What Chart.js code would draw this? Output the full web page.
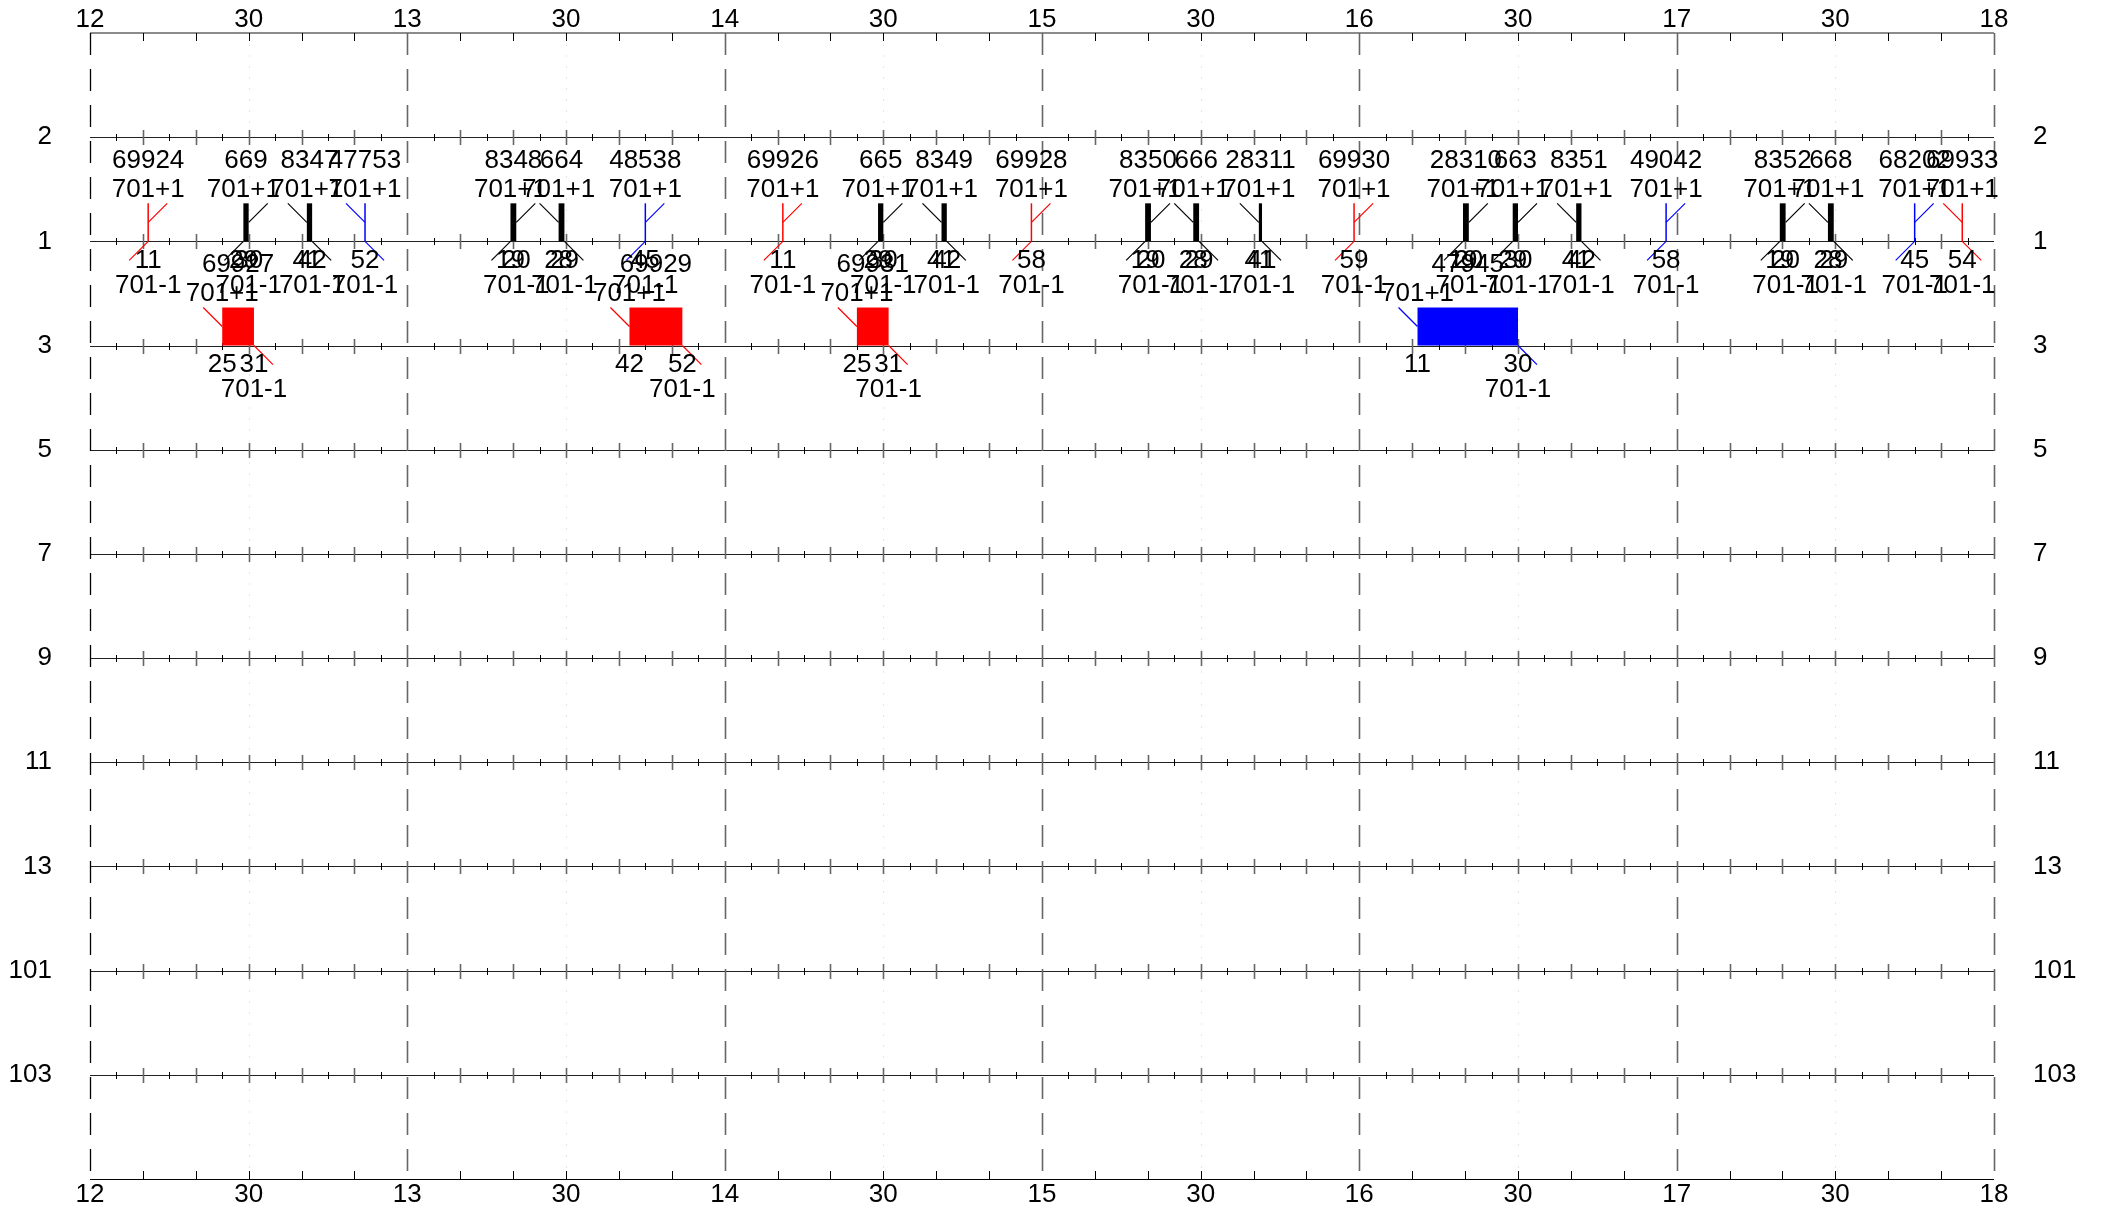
<!DOCTYPE html>
<html>
<head>
<meta charset="utf-8">
<script src="https://cdn.jsdelivr.net/npm/chart.js@4.4.1/dist/chart.umd.min.js"></script>
<style>
  html, body { margin: 0; padding: 0; background: #fff; }
  canvas { display: block; }
</style>
</head>
<body>
<canvas id="myChart" width="2101" height="1210"></canvas>
<script>
// station tracks, top to bottom (first and last entries are the blank edge rows)
let stations = ['', '2', '1', '3', '5', '7', '9', '11', '13', '101', '103', ''];

// time axis in minutes after 12:00, labelled every half hour
let firstHour = 12;
let timeMax = 360;

// trains
let trainNo = ['69924', '669', '8347', '47753', '8348', '664', '48538', '69926', '665', '8349',
  '69928', '8350', '666', '28311', '69930', '28310', '663', '8351', '49042', '8352',
  '668', '68202', '69933', '69927', '69929', '69931', '47945'];
let trainTrack = ['1', '1', '1', '1', '1', '1', '1', '1', '1', '1',
  '1', '1', '1', '1', '1', '1', '1', '1', '1', '1',
  '1', '1', '1', '3', '3', '3', '3'];
let trainIn = [11, 29, 41, 52, 79.5, 88.6, 105, 131, 149, 161,
  178, 199.5, 208.6, 221, 239, 259.6, 269, 281, 298, 319.5,
  328.6, 345, 354, 25, 102, 145, 251];
let trainOut = [11, 30, 42, 52, 80.6, 89.7, 105, 131, 150, 162,
  178, 200.6, 209.7, 221.6, 239, 260.7, 270, 282, 298, 320.6,
  329.7, 345, 354, 31, 112, 151, 270];
let trainDir = ['up', 'up', 'down', 'down', 'up', 'down', 'up', 'up', 'up', 'down',
  'up', 'up', 'down', 'down', 'up', 'up', 'up', 'down', 'up', 'up',
  'down', 'up', 'down', 'down', 'down', 'down', 'down'];
let trainColor = ['red', 'black', 'black', 'blue', 'black', 'black', 'blue', 'red', 'black', 'black',
  'red', 'black', 'black', 'black', 'red', 'black', 'black', 'black', 'blue', 'black',
  'black', 'blue', 'red', 'red', 'red', 'red', 'blue'];
let arriveTag = '701+1';
let departTag = '701-1';

const fontFamily = '"Liberation Sans", Arial, sans-serif';
const fontSize = 26;
const colors = { red: '#ff0000', blue: '#0000ff', black: '#000000' };

function timeLabel(v) {
  return v % 60 === 0 ? String(firstHour + v / 60) : '30';
}

function line(ctx, x1, y1, x2, y2) {
  ctx.beginPath();
  ctx.moveTo(x1, y1);
  ctx.lineTo(x2, y2);
  ctx.stroke();
}

const trainPlot = {
  id: 'trainPlot',
  beforeDatasetsDraw(chart) {
    const { ctx, chartArea: a, scales: { x, y } } = chart;
    ctx.save();

    // faint half hour lines
    ctx.strokeStyle = '#e6e6e6';
    ctx.lineWidth = 1;
    ctx.setLineDash([2, 9]);
    for (let t = 30; t < timeMax; t += 60) {
      const px = Math.round(x.getPixelForValue(t)) + 0.5;
      line(ctx, px, a.top, px, a.bottom);
    }
    ctx.setLineDash([]);

    // track lines with 5 / 10 minute ticks
    for (let r = 1; r < stations.length - 1; r++) {
      const py = Math.round(y.getPixelForValue(r)) + 0.5;
      ctx.strokeStyle = '#222';
      ctx.lineWidth = 1;
      line(ctx, a.left, py, a.right, py);
      for (let t = 5; t < timeMax; t += 5) {
        if (t % 60 === 0) continue;
        const px = Math.round(x.getPixelForValue(t)) + 0.5;
        if (t % 10 === 0) {
          ctx.strokeStyle = '#666';
          ctx.lineWidth = 1.6;
          line(ctx, px, py - 7.5, px, py + 7.5);
        } else {
          ctx.strokeStyle = '#000';
          ctx.lineWidth = 1;
          line(ctx, px, py - 3.5, px, py + 3.5);
        }
      }
    }

    // top and bottom axis lines
    ctx.strokeStyle = '#666';
    ctx.lineWidth = 1.5;
    line(ctx, a.left, a.top, a.right, a.top);
    ctx.strokeStyle = '#000';
    ctx.lineWidth = 1;
    line(ctx, a.left, Math.round(a.bottom) + 0.5, a.right, Math.round(a.bottom) + 0.5);
    for (let t = 10; t < timeMax; t += 10) {
      if (t % 60 === 0) continue;
      const px = Math.round(x.getPixelForValue(t)) + 0.5;
      line(ctx, px, a.top, px, a.top + 8);
      line(ctx, px, a.bottom - 8, px, a.bottom);
    }

    // hour lines, dashed
    ctx.setLineDash([22, 14]);
    for (let t = 0; t <= timeMax; t += 60) {
      const px = Math.round(x.getPixelForValue(t)) + 0.5;
      ctx.strokeStyle = t === 0 ? '#000' : '#666';
      ctx.lineWidth = t === 0 ? 1.3 : 1.6;
      line(ctx, px, a.top, px, a.bottom);
    }
    ctx.restore();
  },
  afterDatasetsDraw(chart) {
    const { ctx, scales: { x, y } } = chart;
    const pitch = y.getPixelForValue(1) - y.getPixelForValue(0);
    const h = pitch * 0.365;
    const s = h / 2;
    ctx.save();
    ctx.font = fontSize + 'px ' + fontFamily;
    ctx.textAlign = 'center';
    ctx.textBaseline = 'middle';

    trainNo.forEach((no, i) => {
      const c = colors[trainColor[i]];
      const x1 = x.getPixelForValue(trainIn[i]);
      const x2 = x.getPixelForValue(trainOut[i]);
      const yr = y.getPixelForValue(stations.indexOf(trainTrack[i]));

      ctx.fillStyle = c;
      ctx.strokeStyle = c;
      if (x2 - x1 < 1.5) {
        ctx.lineWidth = 1.5;
        line(ctx, x1, yr - h, x1, yr);
      } else {
        ctx.fillRect(x1, yr - h, x2 - x1, h);
      }

      // entry / exit stubs
      ctx.lineWidth = 1.2;
      if (trainDir[i] === 'up') {
        line(ctx, x2, yr - s, x2 + s, yr - h);
        line(ctx, x1, yr, x1 - s, yr + s);
      } else {
        line(ctx, x1 - s, yr - h, x1, yr - s);
        line(ctx, x2, yr, x2 + s, yr + s);
      }

      // texts
      ctx.fillStyle = '#000';
      ctx.fillText(no, (x1 + x2) / 2, yr - 81);
      ctx.fillText(arriveTag, x1, yr - 51.5);
      ctx.fillText(String(Math.floor(trainIn[i]) % 60), x1, yr + 19.5);
      if (trainOut[i] !== trainIn[i]) {
        ctx.fillText(String(Math.floor(trainOut[i]) % 60), x2, yr + 19.5);
      }
      ctx.fillText(departTag, x2, yr + 44);
    });
    ctx.restore();
  }
};

const tickFont = { family: fontFamily, size: fontSize, lineHeight: 1 };
const noGrid = { display: false, drawTicks: false };

function timeAxis(position, pad, height) {
  return {
    type: 'linear', position, min: 0, max: timeMax,
    grid: noGrid, border: { display: false },
    ticks: { stepSize: 30, autoSkip: false, maxRotation: 0, minRotation: 0,
      padding: pad, color: '#000', font: tickFont, callback: timeLabel },
    afterFit: sc => { sc.height = height; sc.paddingLeft = 0; sc.paddingRight = 0; }
  };
}

function trackAxis(position, pad, width) {
  return {
    type: 'linear', position, reverse: true, min: 0, max: stations.length - 1,
    grid: noGrid, border: { display: false },
    ticks: { stepSize: 1, autoSkip: false, padding: pad, color: '#000', font: tickFont,
      callback: v => stations[v] },
    afterFit: sc => { sc.width = width; sc.paddingTop = 0; sc.paddingBottom = 0; }
  };
}

let myChart = new Chart(document.getElementById('myChart').getContext('2d'), {
  type: 'scatter',
  data: { datasets: [] },
  options: {
    responsive: false,
    animation: false,
    devicePixelRatio: 1,
    events: [],
    layout: { padding: 0 },
    plugins: { legend: { display: false }, tooltip: { enabled: false } },
    scales: {
      x: timeAxis('bottom', 3, 31),
      xTop: timeAxis('top', 0.5, 33),
      y: trackAxis('left', 38, 90),
      y2: trackAxis('right', 39, 107)
    }
  },
  plugins: [trainPlot]
});
</script>
</body>
</html>
